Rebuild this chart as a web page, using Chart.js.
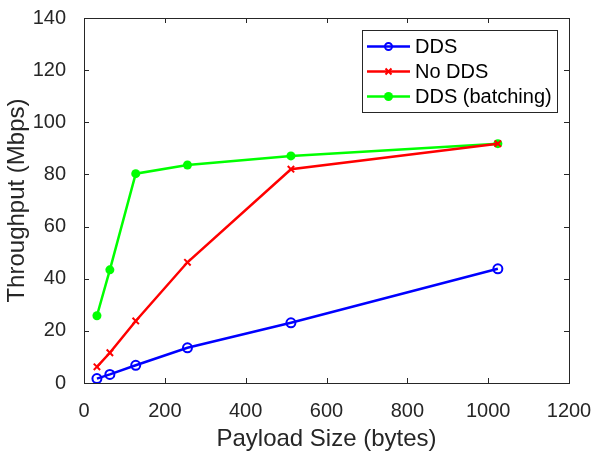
<!DOCTYPE html>
<html>
<head>
<meta charset="utf-8">
<script src="https://cdn.jsdelivr.net/npm/chart.js"></script>
<style>
  html, body { margin: 0; padding: 0; background: #fff; }
  #wrap { width: 594px; height: 455px; }
</style>
</head>
<body>
<div id="wrap"><canvas id="chart" width="594" height="455"></canvas></div>
<script>
// values
const payloadSizes = [32, 64, 128, 256, 512, 1024];
const ddsThroughput = [1.7, 3.3, 6.8, 13.5, 23.1, 43.8];
const noDdsThroughput = [6.2, 11.6, 23.8, 46.3, 82.0, 91.8];
const batchingThroughput = [25.8, 43.4, 80.3, 83.6, 87.1, 91.8];
const seriesNames = ['DDS', 'No DDS', 'DDS (batching)'];

const FONT = '"Liberation Sans", Arial, Helvetica, sans-serif';
const INK = '#262626';

function toPoints(ys) {
    return payloadSizes.map((x, i) => ({ x: x, y: ys[i] }));
}

// box around the plot with inward tick marks on all four sides
const boxTicks = {
    id: 'boxTicks',
    afterDatasetsDraw(chart) {
        const { ctx, chartArea: a, scales } = chart;
        const len = 5;
        ctx.save();
        ctx.strokeStyle = INK;
        ctx.lineWidth = 1;
        ctx.beginPath();
        scales.x.ticks.forEach(t => {
            const px = Math.round(scales.x.getPixelForValue(t.value)) + 0.5;
            ctx.moveTo(px, a.bottom); ctx.lineTo(px, a.bottom - len);
            ctx.moveTo(px, a.top); ctx.lineTo(px, a.top + len);
        });
        scales.y.ticks.forEach(t => {
            const py = Math.round(scales.y.getPixelForValue(t.value)) + 0.5;
            ctx.moveTo(a.left, py); ctx.lineTo(a.left + len, py);
            ctx.moveTo(a.right, py); ctx.lineTo(a.right - len, py);
        });
        ctx.stroke();
        ctx.strokeRect(Math.round(a.left) + 0.5, Math.round(a.top) + 0.5,
            Math.round(a.right - a.left), Math.round(a.bottom - a.top));
        ctx.restore();
    }
};

function drawMarker(ctx, style, x, y, color) {
    ctx.save();
    ctx.strokeStyle = color;
    ctx.fillStyle = color;
    ctx.lineWidth = 2;
    ctx.beginPath();
    if (style === 'openCircle') {
        ctx.arc(x, y, 3.5, 0, Math.PI * 2);
        ctx.stroke();
    } else if (style === 'cross') {
        ctx.moveTo(x - 3, y - 3); ctx.lineTo(x + 3, y + 3);
        ctx.moveTo(x + 3, y - 3); ctx.lineTo(x - 3, y + 3);
        ctx.stroke();
    } else {
        ctx.arc(x, y, 4.5, 0, Math.PI * 2);
        ctx.fill();
    }
    ctx.restore();
}

// MATLAB-like legend in the upper right corner of the axes
const boxLegend = {
    id: 'boxLegend',
    afterDatasetsDraw(chart) {
        const { ctx, chartArea: a } = chart;
        const markers = ['openCircle', 'cross', 'dot'];
        const right = a.right - 12, top = a.top + 12;
        const w = 195, h = 82;
        const left = right - w;
        ctx.save();
        ctx.fillStyle = '#fff';
        ctx.fillRect(left, top, w, h);
        ctx.strokeStyle = INK;
        ctx.lineWidth = 1;
        ctx.strokeRect(Math.round(left) + 0.5, Math.round(top) + 0.5, w, h);
        ctx.font = '20px ' + FONT;
        ctx.textBaseline = 'middle';
        chart.data.datasets.forEach((ds, i) => {
            const y = top + 16.5 + i * 25;
            ctx.strokeStyle = ds.borderColor;
            ctx.lineWidth = 2.5;
            ctx.beginPath();
            ctx.moveTo(left + 5, y);
            ctx.lineTo(left + 48, y);
            ctx.stroke();
            drawMarker(ctx, markers[i], left + 26.5, y, ds.borderColor);
            ctx.fillStyle = '#000';
            ctx.fillText(ds.label, left + 53, y + 1);
        });
        ctx.restore();
    }
};

new Chart(document.getElementById('chart').getContext('2d'), {
    type: 'line',
    data: {
        datasets: [
            {
                label: seriesNames[0],
                data: toPoints(ddsThroughput),
                borderColor: '#0000ff',
                backgroundColor: 'rgba(0,0,0,0)',
                borderWidth: 2.5,
                pointStyle: 'circle',
                pointRadius: 4.5,
                pointBorderWidth: 2,
                pointBackgroundColor: 'rgba(0,0,0,0)',
                pointBorderColor: '#0000ff'
            },
            {
                label: seriesNames[1],
                data: toPoints(noDdsThroughput),
                borderColor: '#ff0000',
                backgroundColor: '#ff0000',
                borderWidth: 2.5,
                pointStyle: 'crossRot',
                pointRadius: 4.5,
                pointBorderWidth: 2,
                pointBorderColor: '#ff0000'
            },
            {
                label: seriesNames[2],
                data: toPoints(batchingThroughput),
                borderColor: '#00ff00',
                backgroundColor: '#00ff00',
                borderWidth: 2.5,
                pointStyle: 'circle',
                pointRadius: 4.5,
                pointBorderWidth: 0,
                pointBackgroundColor: '#00ff00'
            }
        ]
    },
    options: {
        responsive: false,
        animation: false,
        layout: { padding: { top: 18, right: 25, left: 0, bottom: 0 } },
        plugins: {
            legend: { display: false },
            tooltip: { enabled: false }
        },
        scales: {
            x: {
                type: 'linear',
                min: 0,
                max: 1200,
                grid: { display: false },
                border: { display: false },
                ticks: {
                    stepSize: 200,
                    padding: 8,
                    maxRotation: 0,
                    color: INK,
                    font: { family: FONT, size: 20 },
                    callback: v => String(v)
                },
                title: {
                    display: true,
                    text: 'Payload Size (bytes)',
                    color: INK,
                    padding: { top: 0, bottom: 1 },
                    font: { family: FONT, size: 24 }
                },
                afterFit(scale) {
                    scale.height = 72;
                    scale.paddingLeft = 0;
                    scale.paddingRight = 0;
                }
            },
            y: {
                min: 0,
                max: 140,
                grid: { display: false },
                border: { display: false },
                ticks: {
                    stepSize: 20,
                    padding: 10,
                    color: INK,
                    font: { family: FONT, size: 20 }
                },
                title: {
                    display: true,
                    text: 'Throughput (Mbps)',
                    color: INK,
                    padding: { top: 3, bottom: 0 },
                    font: { family: FONT, size: 24 }
                },
                afterFit(scale) {
                    scale.width = 84;
                    scale.paddingTop = 0;
                    scale.paddingBottom = 0;
                }
            }
        }
    },
    plugins: [boxTicks, boxLegend]
});
</script>
</body>
</html>
